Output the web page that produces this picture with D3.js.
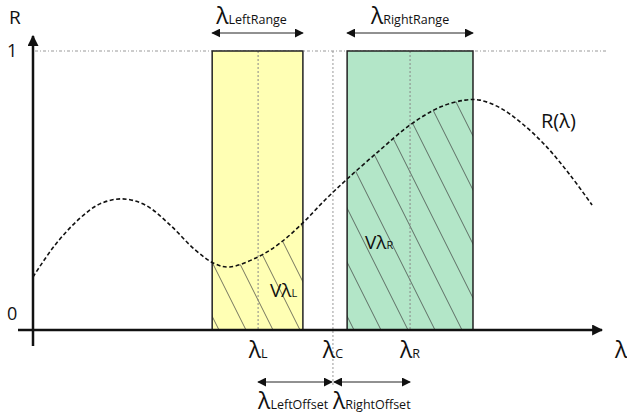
<!DOCTYPE html>
<html>
<head>
<meta charset="utf-8">
<script src="https://cdn.jsdelivr.net/npm/d3@7"></script>
<style>
  body { margin: 0; background: #fff; }
  text { font-family: "Open Sans", "Noto Sans", sans-serif; fill: #111; }
</style>
</head>
<body>
<svg width="627" height="416"></svg>
<script>
// curve R(lambda) (lambda in 0..100, R in 0..1)
var lambdaVals = [0, 3.9, 8.3, 11.8, 15.7, 19.8, 24.2, 28.6, 32.1, 34.7, 39.7, 43.6, 47.6, 51.5, 55.4, 61.2, 66.5, 71.8, 76.2, 78.8, 82.4, 85.9, 90.3, 94.7, 98.6];
var rVals      = [0.19, 0.305, 0.401, 0.452, 0.47, 0.448, 0.376, 0.287, 0.237, 0.226, 0.262, 0.312, 0.384, 0.466, 0.541, 0.645, 0.735, 0.799, 0.824, 0.824, 0.796, 0.746, 0.663, 0.556, 0.448];

// bands and markers
var leftRange = [31.6, 47.6];
var rightRange = [55.4, 77.6];
var lambdaL = 39.7, lambdaC = 52.9, lambdaR = 66.5;
var yTicks = [0, 1];

var svg = d3.select("svg");
var x = d3.scaleLinear().domain([0, 100]).range([33, 600]);
var y = d3.scaleLinear().domain([0, 1]).range([330, 51]);

var pts = lambdaVals.map(function(l, i) { return [l, rVals[i]]; });

var defs = svg.append("defs");
function arrowMarker(id, size) {
  defs.append("marker")
    .attr("id", id)
    .attr("viewBox", "0 0 10 10")
    .attr("refX", 9).attr("refY", 5)
    .attr("markerWidth", size).attr("markerHeight", size)
    .attr("markerUnits", "userSpaceOnUse")
    .attr("orient", "auto-start-reverse")
    .append("path").attr("d", "M0,0 L10,5 L0,10 z").attr("fill", "#111");
}
arrowMarker("arr", 9);
arrowMarker("axarr", 11);

defs.append("pattern")
  .attr("id", "hatch")
  .attr("patternUnits", "userSpaceOnUse")
  .attr("width", 27).attr("height", 54)
  .append("path")
  .attr("d", "M0,0 L27,54 M-27,0 L0,54 M27,0 L54,54")
  .attr("stroke", "#3a3a3a").attr("stroke-width", 0.7);

// top dotted line at R = 1
svg.append("line")
  .attr("x1", 35).attr("x2", 608)
  .attr("y1", y(1)).attr("y2", y(1))
  .attr("stroke", "#999").attr("stroke-width", 1)
  .attr("stroke-dasharray", "3,2,1,2");

var bands = [
  { id: "L", r: leftRange, fill: "#ffffb4", c: lambdaL },
  { id: "R", r: rightRange, fill: "#b3e6c8", c: lambdaR }
];

var area = d3.area()
  .x(function(d) { return x(d[0]); })
  .y0(y(0))
  .y1(function(d) { return y(d[1]); })
  .curve(d3.curveCatmullRom);

bands.forEach(function(b) {
  defs.append("clipPath").attr("id", "clip" + b.id)
    .append("rect")
    .attr("x", x(b.r[0])).attr("y", y(1))
    .attr("width", x(b.r[1]) - x(b.r[0])).attr("height", y(0) - y(1));

  svg.append("rect")
    .attr("x", x(b.r[0])).attr("y", y(1))
    .attr("width", x(b.r[1]) - x(b.r[0])).attr("height", y(0) - y(1))
    .attr("fill", b.fill);

  svg.append("path")
    .attr("clip-path", "url(#clip" + b.id + ")")
    .attr("d", area(pts))
    .attr("fill", "url(#hatch)");

  svg.append("line")
    .attr("x1", x(b.c)).attr("x2", x(b.c))
    .attr("y1", y(1)).attr("y2", y(0))
    .attr("stroke", "#888").attr("stroke-width", 1)
    .attr("stroke-dasharray", "2,2");

  svg.append("rect")
    .attr("x", x(b.r[0])).attr("y", y(1))
    .attr("width", x(b.r[1]) - x(b.r[0])).attr("height", y(0) - y(1))
    .attr("fill", "none").attr("stroke", "#222").attr("stroke-width", 1.5);
});

// lambda C line
svg.append("line")
  .attr("x1", x(lambdaC)).attr("x2", x(lambdaC))
  .attr("y1", y(1)).attr("y2", 386)
  .attr("stroke", "#999").attr("stroke-width", 1)
  .attr("stroke-dasharray", "2,2");

// the curve
svg.append("path")
  .attr("d", d3.line()
    .x(function(d) { return x(d[0]); })
    .y(function(d) { return y(d[1]); })
    .curve(d3.curveCatmullRom)(pts))
  .attr("fill", "none").attr("stroke", "#111")
  .attr("stroke-width", 1.6).attr("stroke-dasharray", "4,2.5");

// axes
svg.append("line")
  .attr("x1", x(0)).attr("x2", x(0)).attr("y1", 346).attr("y2", 36)
  .attr("stroke", "#111").attr("stroke-width", 2.5).attr("marker-end", "url(#axarr)");
svg.append("line")
  .attr("x1", 18).attr("x2", 602).attr("y1", y(0)).attr("y2", y(0))
  .attr("stroke", "#111").attr("stroke-width", 2.5).attr("marker-end", "url(#axarr)");

yTicks.forEach(function(t) {
  svg.append("text").attr("x", 7).attr("y", y(t) + (t === 1 ? 6 : -10))
    .attr("font-size", 18).text(t);
});
svg.append("text").attr("x", 9).attr("y", 24).attr("font-size", 19).text("R");

// helper for lambda labels with subscripts
function lamLabel(px, py, sub, anchor, big, small) {
  var t = svg.append("text").attr("x", px).attr("y", py)
    .attr("text-anchor", anchor || "start");
  t.append("tspan").attr("font-size", big || 23).text("λ");
  if (sub) t.append("tspan").attr("font-size", small || 12.5).text(sub);
  return t;
}

// range arrows
function dblArrow(x1, x2, yy) {
  svg.append("line")
    .attr("x1", x1).attr("x2", x2).attr("y1", yy).attr("y2", yy)
    .attr("stroke", "#222").attr("stroke-width", 1)
    .attr("marker-start", "url(#arr)").attr("marker-end", "url(#arr)");
}
dblArrow(x(leftRange[0]), x(leftRange[1]), 33);
dblArrow(x(rightRange[0]), x(rightRange[1]), 33);
lamLabel((x(leftRange[0]) + x(leftRange[1])) / 2 - 6, 24, "LeftRange", "middle");
lamLabel((x(rightRange[0]) + x(rightRange[1])) / 2, 24, "RightRange", "middle");

// offsets
dblArrow(x(lambdaL), x(lambdaC) - 1, 382);
dblArrow(x(lambdaC) + 1, x(lambdaR), 382);
lamLabel(x(lambdaL), 409, "LeftOffset");
lamLabel(x(lambdaC), 409, "RightOffset");

// markers on axis
lamLabel(x(lambdaL), 358, "L", "middle");
lamLabel(x(lambdaC), 358, "C", "middle");
lamLabel(x(lambdaR), 358, "R", "middle");
lamLabel(615, 358, null, "start");

// V labels
var vl = svg.append("text").attr("x", 270).attr("y", 297);
vl.append("tspan").attr("font-size", 19).text("Vλ");
vl.append("tspan").attr("font-size", 11).text("L");
var vr = svg.append("text").attr("x", 365).attr("y", 249);
vr.append("tspan").attr("font-size", 19).text("Vλ");
vr.append("tspan").attr("font-size", 11).text("R");

svg.append("text").attr("x", 541).attr("y", 128).attr("font-size", 20).text("R(λ)");
</script>
</body>
</html>
